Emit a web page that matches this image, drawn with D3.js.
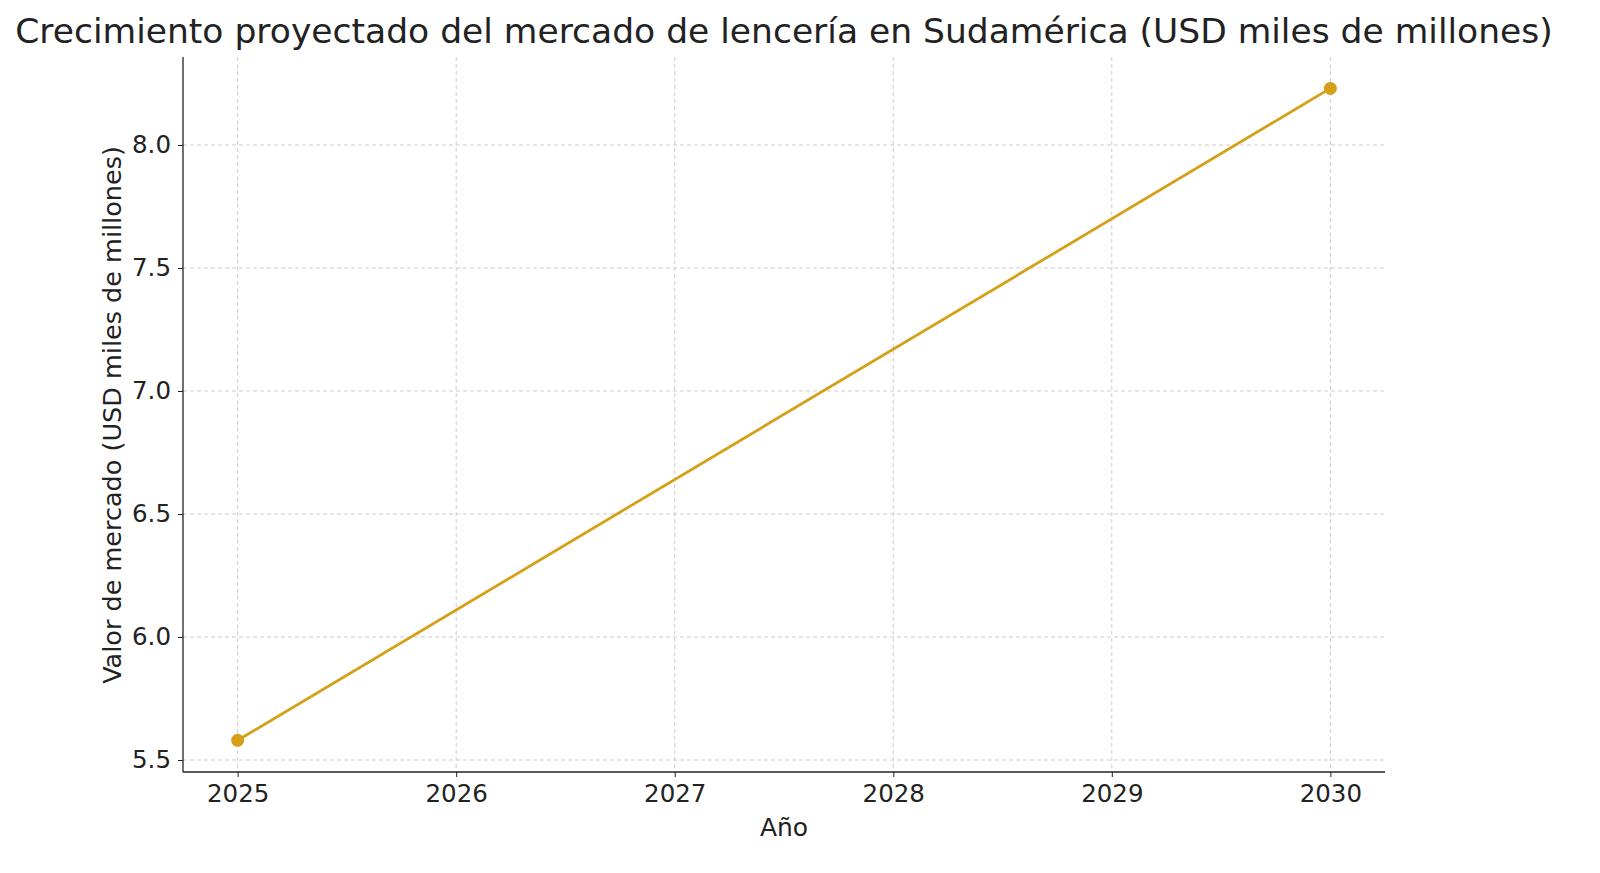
<!DOCTYPE html>
<html><head><meta charset="utf-8">
<script src="https://cdn.jsdelivr.net/npm/d3@7"></script>
<style>body{margin:0;background:#fff}text{font-family:"DejaVu Sans",sans-serif;fill:#222}</style>
</head><body><svg id="c" width="1600" height="873"></svg>
<script>
const years = [2025, 2030];
const values = [5.58, 8.23];
const yTicks = [5.5, 6.0, 6.5, 7.0, 7.5, 8.0];
const xTicks = [2025, 2026, 2027, 2028, 2029, 2030];
const title = "Crecimiento proyectado del mercado de lencería en Sudamérica (USD miles de millones)";

const svg = d3.select("#c");
const L=183,R=1385,T=57,B=772;
const x = d3.scaleLinear().domain([2024.75,2030.25]).range([L,R]);
const y = d3.scaleLinear().domain([5.4512,8.3577]).range([B,T]);

const g = svg.append("g");
xTicks.forEach(t=>g.append("line").attr("x1",x(t)).attr("x2",x(t)).attr("y1",T).attr("y2",B).attr("stroke","#ccc").attr("stroke-dasharray","4,3"));
yTicks.forEach(t=>g.append("line").attr("x1",L).attr("x2",R).attr("y1",y(t)).attr("y2",y(t)).attr("stroke","#ccc").attr("stroke-dasharray","4,3"));

const xa = svg.append("g").attr("transform",`translate(0,${B})`).call(d3.axisBottom(x).tickValues(xTicks).tickFormat(d3.format("d")).tickSize(5).tickPadding(8));
const ya = svg.append("g").attr("transform",`translate(${L},0)`).call(d3.axisLeft(y).tickValues(yTicks).tickFormat(d3.format(".1f")).tickSize(5).tickPadding(7));
[xa,ya].forEach(a=>{a.selectAll("text").attr("font-size",24.5).style("font-family","DejaVu Sans").attr("fill","#222");a.select(".domain").attr("stroke","#222").attr("stroke-width",1.3);a.selectAll(".tick line").attr("stroke","#222");});
xa.select(".domain").attr("d",`M${L},0H${R}`);
ya.select(".domain").attr("d",`M0,${B}V${T}`);

const pts = years.map((d,i)=>[d,values[i]]);
svg.append("path").datum(pts).attr("fill","none").attr("stroke","#d4a017").attr("stroke-width",2.8)
 .attr("d",d3.line().x(d=>x(d[0])).y(d=>y(d[1])));
svg.selectAll("circle.p").data(pts).enter().append("circle").attr("cx",d=>x(d[0])).attr("cy",d=>y(d[1])).attr("r",6.5).attr("fill","#d4a017");

svg.append("text").attr("x",784).attr("y",43).attr("text-anchor","middle").attr("font-size",34.5).text(title);
svg.append("text").attr("x",784).attr("y",836).attr("text-anchor","middle").attr("font-size",25).text("Año");
svg.append("text").attr("transform","translate(121,415) rotate(-90)").attr("text-anchor","middle").attr("font-size",25.5).text("Valor de mercado (USD miles de millones)");
</script></body></html>
